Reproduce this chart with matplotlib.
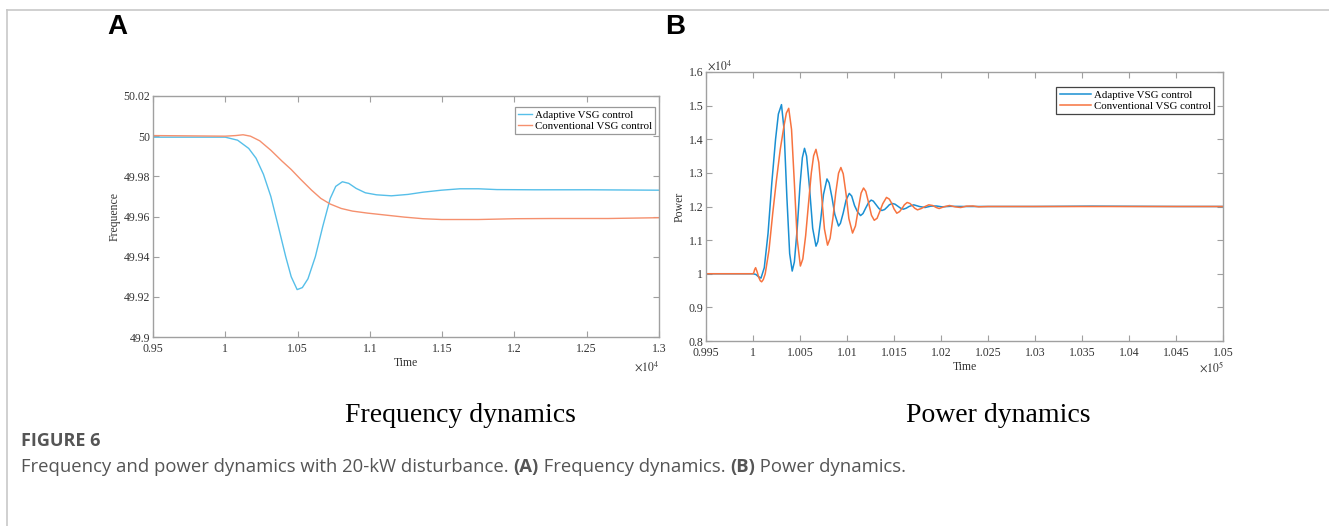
import matplotlib
matplotlib.use("Agg")
import matplotlib.pyplot as plt
from matplotlib.lines import Line2D
from matplotlib.ticker import FuncFormatter

# ---- panel A: frequency (time in s, shown as x10^4) ----
freq_t_adaptive = [9500, 10000, 10085, 10162, 10213, 10264, 10315, 10367, 10418, 10456,
                   10497, 10533, 10572, 10623, 10674, 10726, 10764, 10810, 10854, 10905,
                   10969, 11046, 11149, 11264, 11367, 11495, 11623, 11751, 11879, 12136,
                   12520, 13000]
freq_adaptive = [49.9995, 49.9995, 49.998, 49.9939, 49.989, 49.981, 49.970, 49.955, 49.940, 49.930,
                 49.9236, 49.9246, 49.929, 49.940, 49.955, 49.969, 49.975, 49.9773, 49.9765, 49.974,
                 49.9718, 49.9708, 49.9703, 49.971, 49.9721, 49.9731, 49.9738, 49.9738, 49.9734, 49.9733,
                 49.9733, 49.9731]

freq_t_conv = [9500, 10000, 10072, 10123, 10174, 10238, 10315, 10392, 10456, 10520,
               10597, 10661, 10726, 10802, 10879, 10982, 11110, 11238, 11367, 11495,
               11751, 12007, 12264, 12648, 13000]
freq_conv = [50.0003, 50.0, 50.0003, 50.0007, 50.0, 49.9977, 49.993, 49.9876, 49.9834, 49.9786,
             49.9731, 49.969, 49.9662, 49.964, 49.9627, 49.9617, 49.9607, 49.9597, 49.9589, 49.9585,
             49.9585, 49.9589, 49.959, 49.959, 49.9594]

# ---- panel B: power (time shown as x10^5, power as x10^4) ----
pow_t_adaptive = [0.995, 1.0, 1.0003, 1.00055, 1.00085, 1.0012, 1.0016, 1.0020, 1.0024, 1.0027,
                  1.00303, 1.0033, 1.0036, 1.0039, 1.00417, 1.0044, 1.0047, 1.0050, 1.00525, 1.00548,
                  1.0057, 1.0060, 1.00635, 1.0067, 1.0069, 1.0072, 1.0075, 1.00787, 1.0081, 1.0084,
                  1.0087, 1.0091, 1.0093, 1.0096, 1.0099, 1.01024, 1.0105, 1.0108, 1.0111, 1.01144,
                  1.0117, 1.0120, 1.0123, 1.01257, 1.0128, 1.0131, 1.0134, 1.0137, 1.0140, 1.0143,
                  1.0145, 1.0148, 1.0151, 1.0154, 1.0157, 1.0160, 1.0163, 1.0166, 1.0171, 1.0177,
                  1.0183, 1.0189, 1.0195, 1.0201, 1.0210, 1.0225, 1.030, 1.036, 1.045, 1.05]
pow_adaptive = [1.0, 1.0, 0.998, 0.992, 0.987, 1.018, 1.12, 1.27, 1.40, 1.475,
                1.503, 1.43, 1.23, 1.06, 1.008, 1.035, 1.133, 1.263, 1.345, 1.373,
                1.35, 1.26, 1.135, 1.082, 1.096, 1.16, 1.236, 1.282, 1.27, 1.227,
                1.177, 1.142, 1.15, 1.181, 1.219, 1.239, 1.231, 1.203, 1.185, 1.173,
                1.179, 1.196, 1.212, 1.219, 1.216, 1.205, 1.194, 1.188, 1.191, 1.199,
                1.205, 1.209, 1.207, 1.201, 1.195, 1.192, 1.195, 1.200, 1.205, 1.200,
                1.197, 1.201, 1.2015, 1.199, 1.2005, 1.2, 1.2, 1.201, 1.2, 1.2]

pow_t_conv = [0.995, 1.0, 1.00008, 1.00018, 1.00028, 1.00045, 1.0006, 1.00078, 1.00092, 1.0011,
              1.0013, 1.0017, 1.0021, 1.0025, 1.0029, 1.0033, 1.00355, 1.0038, 1.0041, 1.0044,
              1.0047, 1.00504, 1.0053, 1.0056, 1.0059, 1.0062, 1.00645, 1.0067, 1.0070, 1.0073,
              1.0076, 1.00793, 1.0082, 1.0085, 1.0088, 1.0091, 1.00935, 1.0096, 1.0099, 1.0102,
              1.01059, 1.0109, 1.0112, 1.0115, 1.01176, 1.0120, 1.0123, 1.0126, 1.0129, 1.0132,
              1.0135, 1.0138, 1.0142, 1.0145, 1.0148, 1.0150, 1.0153, 1.0156, 1.0159, 1.0161,
              1.0164, 1.0167, 1.0170, 1.0172, 1.0175, 1.0179, 1.0183, 1.0187, 1.0191, 1.0195,
              1.0198, 1.0203, 1.0209, 1.0215, 1.0221, 1.0227, 1.0234, 1.024, 1.025, 1.03,
              1.04, 1.05]
pow_conv = [1.0, 1.0, 1.003, 1.013, 1.018, 1.005, 0.99, 0.979, 0.976, 0.983,
            1.0, 1.07, 1.18, 1.28, 1.37, 1.44, 1.478, 1.492, 1.429, 1.27,
            1.103, 1.023, 1.044, 1.113, 1.207, 1.299, 1.351, 1.370, 1.331, 1.232,
            1.133, 1.085, 1.105, 1.165, 1.24, 1.299, 1.316, 1.297, 1.237, 1.164,
            1.121, 1.142, 1.192, 1.24, 1.255, 1.245, 1.211, 1.174, 1.159, 1.165,
            1.186, 1.208, 1.227, 1.222, 1.207, 1.193, 1.180, 1.185, 1.196, 1.205,
            1.212, 1.209, 1.201, 1.195, 1.190, 1.194, 1.2, 1.205, 1.203, 1.197,
            1.194, 1.199, 1.203, 1.199, 1.197, 1.201, 1.2015, 1.199, 1.2, 1.2,
            1.2, 1.2]

labels = ["Adaptive VSG control", "Conventional VSG control"]
freq_xticks = [9500, 10000, 10500, 11000, 11500, 12000, 12500, 13000]
freq_yticks = [49.9, 49.92, 49.94, 49.96, 49.98, 50.0, 50.02]
pow_xticks = [0.995, 1.0, 1.005, 1.01, 1.015, 1.02, 1.025, 1.03, 1.035, 1.04, 1.045, 1.05]
pow_yticks = [0.8, 0.9, 1.0, 1.1, 1.2, 1.3, 1.4, 1.5, 1.6]

SERIF = "Liberation Serif"
W, H = 1329, 526


def style_axes(ax):
    for s in ax.spines.values():
        s.set_color("#a0a0a0")
        s.set_linewidth(1.0)
    ax.tick_params(direction="in", length=4, width=0.8, color="#a0a0a0",
                   top=True, right=True, labelsize=8.5, labelcolor="#333333")
    ax.tick_params(axis="x", pad=4)
    ax.tick_params(axis="y", pad=2)
    for lab in ax.get_xticklabels() + ax.get_yticklabels():
        lab.set_family(SERIF)


def fig_box(left, top, right, bottom):
    return [left / W, 1 - bottom / H, (right - left) / W, (bottom - top) / H]


def add_legend(ax, anchor, handlelength, edge):
    leg = ax.legend(loc="upper right", bbox_to_anchor=anchor, borderaxespad=0,
                    prop={"family": SERIF, "size": 7.8}, handlelength=handlelength,
                    handletextpad=0.25, borderpad=0.3, labelspacing=0.15,
                    fancybox=False, framealpha=1)
    leg.get_frame().set_edgecolor(edge)
    leg.get_frame().set_linewidth(0.9)
    return leg


fig = plt.figure(figsize=(W / 100, H / 100), dpi=100)

# panel A
ax1 = fig.add_axes(fig_box(153, 96, 659, 337))
ax1.plot(freq_t_adaptive, freq_adaptive, color="#56bfe9", lw=1.0, label=labels[0])
ax1.plot(freq_t_conv, freq_conv, color="#f5906e", lw=1.0, label=labels[1])
ax1.set_xlim(9500, 13000)
ax1.set_ylim(49.9, 50.02)
ax1.set_xticks(freq_xticks)
ax1.set_yticks(freq_yticks)
ax1.xaxis.set_major_formatter(FuncFormatter(lambda v, p: "%g" % (v / 1e4)))
ax1.yaxis.set_major_formatter(FuncFormatter(lambda v, p: "%g" % round(v, 2)))
style_axes(ax1)
ax1.set_xlabel("Time", family=SERIF, fontsize=8.5, labelpad=2, color="#333333")
ax1.set_ylabel("Frequence", family=SERIF, fontsize=8.5, labelpad=2, color="#333333")
add_legend(ax1, ((655 - 153) / 506, 1 - (107 - 96) / 241), 1.3, "#999999")
fig.text(647 / W, 1 - 367 / H, r"$\times10^4$", ha="center", va="center",
         fontsize=8.5, family=SERIF, color="#333333", math_fontfamily="stix")

# panel B
ax2 = fig.add_axes(fig_box(706, 72, 1223, 341))
ax2.plot(pow_t_adaptive, pow_adaptive, color="#1a8fd2", lw=1.1, label=labels[0])
ax2.plot(pow_t_conv, pow_conv, color="#f7733f", lw=1.1, label=labels[1])
ax2.set_xlim(0.995, 1.05)
ax2.set_ylim(0.8, 1.6)
ax2.set_xticks(pow_xticks)
ax2.set_yticks(pow_yticks)
ax2.xaxis.set_major_formatter(FuncFormatter(lambda v, p: "%g" % round(v, 3)))
ax2.yaxis.set_major_formatter(FuncFormatter(lambda v, p: "%g" % round(v, 1)))
style_axes(ax2)
ax2.set_xlabel("Time", family=SERIF, fontsize=8.5, labelpad=2, color="#333333")
ax2.set_ylabel("Power", family=SERIF, fontsize=8.5, labelpad=2, color="#333333")
add_legend(ax2, ((1214 - 706) / 517, 1 - (87 - 72) / 269), 2.9, "#444444")
fig.text(720 / W, 1 - 66 / H, r"$\times10^4$", ha="center", va="center",
         fontsize=8.5, family=SERIF, color="#333333", math_fontfamily="stix")
fig.text(1212 / W, 1 - 367 / H, r"$\times10^5$", ha="center", va="center",
         fontsize=8.5, family=SERIF, color="#333333", math_fontfamily="stix")

# panel letters and sub captions
fig.text(117 / W, 1 - 27 / H, "A", ha="center", va="center", fontsize=20,
         fontweight="bold", family="Liberation Sans")
fig.text(675 / W, 1 - 27 / H, "B", ha="center", va="center", fontsize=20,
         fontweight="bold", family="Liberation Sans")
fig.text(460 / W, 1 - 415 / H, "Frequency dynamics", ha="center", va="center",
         fontsize=20, family=SERIF)
fig.text(998 / W, 1 - 415 / H, "Power dynamics", ha="center", va="center",
         fontsize=20, family=SERIF)

# figure caption
fig.text(21 / W, 1 - 441 / H, "FIGURE 6", ha="left", va="center", fontsize=13,
         fontweight="bold", family="Open Sans", color="#555555")
pieces = [("Frequency and power dynamics with 20-kW disturbance. ", "normal"),
          ("(A)", "bold"), (" Frequency dynamics. ", "normal"),
          ("(B)", "bold"), (" Power dynamics.", "normal")]
renderer = fig.canvas.get_renderer()
x = 21
for txt, wt in pieces:
    t = fig.text(x / W, 1 - 467 / H, txt, ha="left", va="center", fontsize=13.3,
                 fontweight=wt, family="Open Sans", color="#555555")
    x += t.get_window_extent(renderer).width

# page border lines
fig.add_artist(Line2D([7 / W, 1], [1 - 10 / H, 1 - 10 / H], color="#c8c8c8", lw=1.2))
fig.add_artist(Line2D([7 / W, 7 / W], [0, 1 - 10 / H], color="#c8c8c8", lw=1.2))

fig.savefig("out.png", dpi=100)
